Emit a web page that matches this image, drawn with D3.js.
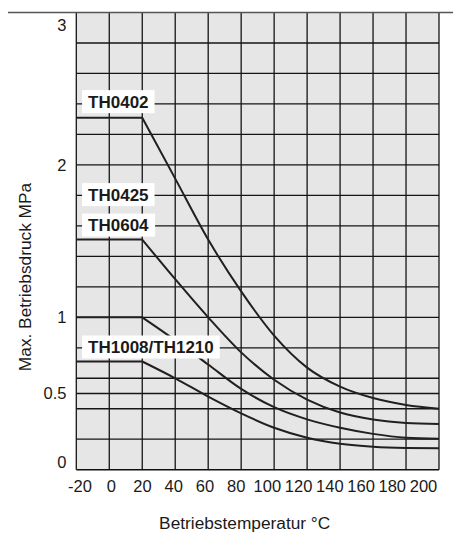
<!DOCTYPE html>
<html>
<head>
<meta charset="utf-8">
<script src="https://cdn.jsdelivr.net/npm/d3@7"></script>
<style>
  body { margin: 0; background: #fff; }
  text { font-family: "Liberation Sans", Arial, Helvetica, sans-serif; fill: #1a1a1a; }
</style>
</head>
<body>
<div id="chart"></div>
<script>
var temps = [-20, 20, 40, 60, 80, 100, 120, 140, 160, 180, 200];

// max. pressure (MPa) for each curve, top to bottom
var curve1 = [2.31, 2.31, 1.91, 1.51, 1.17, 0.88, 0.67, 0.545, 0.47, 0.425, 0.40];
var curve2 = [1.51, 1.51, 1.25, 1.0, 0.77, 0.59, 0.46, 0.375, 0.33, 0.307, 0.30];
var curve3 = [1.0, 1.0, 0.85, 0.69, 0.53, 0.41, 0.33, 0.275, 0.235, 0.21, 0.203];
var curve4 = [0.71, 0.71, 0.6, 0.48, 0.37, 0.275, 0.21, 0.17, 0.15, 0.142, 0.14];

var labels = ["TH0402", "TH0425", "TH0604", "TH1008/TH1210"];

var xTicks = [-20, 0, 20, 40, 60, 80, 100, 120, 140, 160, 180, 200];
var yTicks = [0, 0.5, 1, 2, 3];
var yGrid = [0.2, 0.4, 0.5, 0.6, 0.8, 1, 1.2, 1.4, 1.6, 1.8, 2, 2.2, 2.4, 2.6, 2.8];

function drawChart(boxName){
	var width = 453,
		height = 536;

	var svg = d3.select(boxName)
		.append("svg")
		.attr("width", width)
		.attr("height", height);

	var x = d3.scaleLinear().domain([-20, 200]).range([76.3, 439]);
	var y = d3.scaleLinear().domain([0, 3]).range([469.7, 12.5]);
	// tick labels under the grid are a bit squeezed in the original
	var xl = d3.scaleLinear().domain([-20, 200]).range([79.5, 423]);

	// plot background
	svg.append("rect")
		.attr("x", x(-20)).attr("y", y(3))
		.attr("width", x(200) - x(-20)).attr("height", y(0) - y(3))
		.attr("fill", "#e6e6e6");

	// grid
	svg.append("g").selectAll("line")
		.data(yGrid)
		.enter().append("line")
		.attr("x1", x(-20)).attr("x2", x(200))
		.attr("y1", function(d){ return y(d); })
		.attr("y2", function(d){ return y(d); })
		.attr("stroke", "#151515").attr("stroke-width", 1.3);

	svg.append("g").selectAll("line")
		.data(xTicks)
		.enter().append("line")
		.attr("x1", function(d){ return x(d); })
		.attr("x2", function(d){ return x(d); })
		.attr("y1", y(3)).attr("y2", y(0))
		.attr("stroke", "#151515").attr("stroke-width", 1.3);

	// bottom border
	svg.append("line")
		.attr("x1", x(-20)).attr("x2", x(200))
		.attr("y1", y(0)).attr("y2", y(0))
		.attr("stroke", "#111").attr("stroke-width", 1.6);

	// top rule goes across the whole page
	svg.append("line")
		.attr("x1", 8).attr("x2", width)
		.attr("y1", y(3)).attr("y2", y(3))
		.attr("stroke", "#555").attr("stroke-width", 1.3);

	// curves : flat part is straight, the drop is smoothed
	var flat = d3.line()
		.x(function(d){ return x(d[0]); })
		.y(function(d){ return y(d[1]); });
	var drop = d3.line()
		.curve(d3.curveMonotoneX)
		.x(function(d){ return x(d[0]); })
		.y(function(d){ return y(d[1]); });

	[curve1, curve2, curve3, curve4].forEach(function(vals){
		var pts = temps.map(function(t, i){ return [t, vals[i]]; });
		svg.append("path")
			.attr("d", flat(pts.slice(0, 2)))
			.attr("fill", "none").attr("stroke", "#231f20").attr("stroke-width", 2);
		svg.append("path")
			.attr("d", drop(pts.slice(1)))
			.attr("fill", "none").attr("stroke", "#231f20").attr("stroke-width", 2);
	});

	// labels in white boxes
	var labelAt = [2.415, 1.805, 1.605, 0.805];
	labels.forEach(function(name, i){
		var g = svg.append("g");
		var t = g.append("text")
			.attr("x", x(-16.5) + 6)
			.attr("y", y(labelAt[i]))
			.attr("dy", "0.36em")
			.attr("font-size", "17px")
			.attr("font-weight", "bold")
			.text(name);
		var bb = t.node().getBBox();
		g.insert("rect", "text")
			.attr("x", x(-16.5))
			.attr("y", y(labelAt[i]) - 11.5)
			.attr("width", bb.width + 12)
			.attr("height", 23)
			.attr("fill", "#fff");
	});

	// axes
	var xAxis = d3.axisBottom(xl).tickValues(xTicks).tickSize(0).tickPadding(0).tickFormat(function(d){ return String(d); });
	svg.append("g")
		.attr("transform", "translate(0," + 486 + ")")
		.call(xAxis)
		.call(function(g){ g.select(".domain").remove(); })
		.selectAll("text")
		.attr("dy", "0.35em")
		.attr("font-size", "16.5px")
		.attr("font-family", "Liberation Sans, Arial, sans-serif")
		.attr("fill", "#1a1a1a");

	var yAxis = d3.axisLeft(y).tickValues(yTicks).tickSize(0).tickPadding(0).tickFormat(function(d){ return String(d); });
	svg.append("g")
		.attr("transform", "translate(66.5,0)")
		.call(yAxis)
		.call(function(g){ g.select(".domain").remove(); })
		.selectAll("text")
		.attr("font-size", "16.5px")
		.attr("font-family", "Liberation Sans, Arial, sans-serif")
		.attr("fill", "#1a1a1a")
		// outer labels are pulled inside like in the print
		.attr("dy", function(d){ return d == 3 ? "1.1em" : d == 0 ? "-0.15em" : "0.32em"; });

	// titles
	svg.append("text")
		.attr("x", 244.7).attr("y", 523)
		.attr("dy", "0.35em")
		.attr("text-anchor", "middle")
		.attr("font-size", "17.3px")
		.text("Betriebstemperatur °C");

	svg.append("text")
		.attr("transform", "translate(24.5,277) rotate(-90)")
		.attr("dy", "0.35em")
		.attr("text-anchor", "middle")
		.attr("font-size", "17.3px")
		.text("Max. Betriebsdruck MPa");
}

drawChart("#chart");
</script>
</body>
</html>
